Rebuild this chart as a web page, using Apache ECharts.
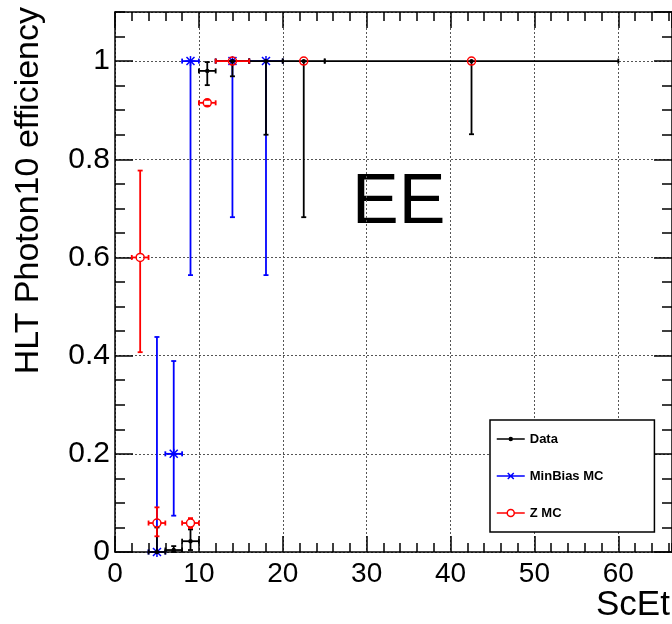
<!DOCTYPE html>
<html>
<head>
<meta charset="utf-8">
<script src="https://cdn.jsdelivr.net/npm/echarts@6/dist/echarts.min.js"></script>
<style>
html,body{margin:0;padding:0;background:#fff;}
#chart{width:672px;height:624px;}
</style>
</head>
<body>
<div id="chart"></div>
<script>
// ---- Data ----
const dataX        = [5, 7, 9, 11, 14, 18, 22.5, 42.5];
const dataY        = [0, 0.004, 0.022, 0.98, 1, 1, 1, 1];
const dataXErr     = [1, 1, 1, 1, 2, 2, 2.5, 17.5];
const dataYErrLow  = [0, 0.004, 0.018, 0.029, 0.031, 0.15, 0.318, 0.149];
const dataYErrHigh = [0.05, 0.008, 0.024, 0.018, 0, 0, 0, 0];

const minBiasX        = [5, 7, 9, 14, 18];
const minBiasY        = [0, 0.2, 1, 1, 1];
const minBiasXErr     = [1, 1, 1, 2, 2];
const minBiasYErrLow  = [0, 0.126, 0.436, 0.318, 0.436];
const minBiasYErrHigh = [0.438, 0.189, 0, 0, 0];

const zX        = [3, 5, 9, 11, 14, 22.5, 42.5];
const zY        = [0.6, 0.059, 0.059, 0.915, 1, 1, 1];
const zXErr     = [1, 1, 1, 1, 2, 0, 0];
const zYErrLow  = [0.193, 0.027, 0.01, 0.006, 0, 0, 0];
const zYErrHigh = [0.177, 0.032, 0.01, 0.006, 0, 0, 0];

const seriesNames = ['Data', 'MinBias MC', 'Z MC'];
const xRange = [0, 66.4];
const yRange = [0, 1.1];
const xTickLabels = ['0', '10', '20', '30', '40', '50', '60'];
const yTickLabels = ['0', '0.2', '0.4', '0.6', '0.8', '1'];

// ---- Build rows ----
function rows(xs, ys, ex, eyl, eyh) {
  return xs.map((x, i) => [x, ys[i], ex[i], ex[i], eyl[i], eyh[i]]);
}

const FONT = '"Liberation Sans", Arial, Helvetica, sans-serif';

function errRender(color, marker, lw) {
  return function (params, api) {
    const x = api.value(0), y = api.value(1);
    const exl = api.value(2), exh = api.value(3), eyl = api.value(4), eyh = api.value(5);
    const p = api.coord([x, y]);
    const gap = marker === 'circle' ? 4 : 0;
    const cap = 2.5;
    const st = { stroke: color, lineWidth: lw, fill: null };
    const kids = [];
    const seg = (x1, y1, x2, y2) => kids.push({ type: 'line', shape: { x1, y1, x2, y2 }, style: st });
    if (exl > 0) {
      const a = api.coord([x - exl, y]);
      seg(a[0], p[1], p[0] - gap, p[1]);
      seg(a[0], p[1] - cap, a[0], p[1] + cap);
    }
    if (exh > 0) {
      const b = api.coord([x + exh, y]);
      seg(p[0] + gap, p[1], b[0], p[1]);
      seg(b[0], p[1] - cap, b[0], p[1] + cap);
    }
    if (eyl > 0) {
      const a = api.coord([x, y - eyl]);
      seg(p[0], p[1] + gap, p[0], a[1]);
      seg(p[0] - cap, a[1], p[0] + cap, a[1]);
    }
    if (eyh > 0) {
      const b = api.coord([x, y + eyh]);
      seg(p[0], p[1] - gap, p[0], b[1]);
      seg(p[0] - cap, b[1], p[0] + cap, b[1]);
    }
    if (marker === 'dot') {
      kids.push({ type: 'circle', shape: { cx: p[0], cy: p[1], r: 2.2 }, style: { fill: color } });
    } else if (marker === 'star') {
      const s = 4;
      const ms = { stroke: color, lineWidth: 1.5 };
      kids.push({ type: 'line', shape: { x1: p[0] - s, y1: p[1] - s, x2: p[0] + s, y2: p[1] + s }, style: ms });
      kids.push({ type: 'line', shape: { x1: p[0] - s, y1: p[1] + s, x2: p[0] + s, y2: p[1] - s }, style: ms });
      kids.push({ type: 'line', shape: { x1: p[0], y1: p[1] - s - 1, x2: p[0], y2: p[1] + s + 1 }, style: ms });
      kids.push({ type: 'line', shape: { x1: p[0] - s - 1, y1: p[1], x2: p[0] + s + 1, y2: p[1] }, style: ms });
    } else if (marker === 'circle') {
      kids.push({ type: 'circle', shape: { cx: p[0], cy: p[1], r: 4 }, style: { fill: 'rgba(0,0,0,0)', stroke: color, lineWidth: 1.5 } });
    }
    return { type: 'group', children: kids };
  };
}

const chart = echarts.init(document.getElementById('chart'), null, { renderer: 'canvas' });

const gridLine = { show: true, lineStyle: { type: [2, 2], color: '#555', width: 1 } };
const axLine = { show: true, onZero: false, lineStyle: { color: '#000', width: 1.5 } };

function xAxisDef(position, major, showLabel) {
  return {
    type: 'value', position, min: xRange[0], max: xRange[1], interval: major ? 10 : 2,
    axisLine: major ? axLine : { show: false, onZero: false },
    axisTick: { show: true, inside: true, length: major ? 16 : 9, lineStyle: { color: '#000', width: 1.5 } },
    axisLabel: showLabel ? {
      show: true, fontSize: 28, fontFamily: FONT, color: '#000', margin: 8,
      showMaxLabel: false,
      formatter: v => { const i = Math.round(v / 10); return (Math.abs(v - i * 10) < 1e-6 && xTickLabels[i] !== undefined) ? xTickLabels[i] : ''; }
    } : { show: false },
    splitLine: (major && showLabel) ? gridLine : { show: false }
  };
}
function yAxisDef(position, major, showLabel) {
  return {
    type: 'value', position, min: yRange[0], max: yRange[1], interval: major ? 0.2 : 0.05,
    axisLine: major ? axLine : { show: false, onZero: false },
    axisTick: { show: true, inside: true, length: major ? 18 : 10, lineStyle: { color: '#000', width: 1.5 } },
    axisLabel: showLabel ? {
      show: true, fontSize: 30, fontFamily: FONT, color: '#000', margin: 5,
      showMaxLabel: false,
      formatter: v => { const i = Math.round(v / 0.2); return (Math.abs(v - i * 0.2) < 1e-6 && yTickLabels[i] !== undefined) ? yTickLabels[i] : ''; }
    } : { show: false },
    splitLine: (major && showLabel) ? gridLine : { show: false }
  };
}

const option = {
  animation: false,
  backgroundColor: '#fff',
  grid: { left: 115, top: 12, width: 561, height: 540, containLabel: false },
  xAxis: [
    xAxisDef('bottom', true, true),
    xAxisDef('bottom', false, false),
    xAxisDef('top', true, false),
    xAxisDef('top', false, false)
  ],
  yAxis: [
    yAxisDef('left', true, true),
    yAxisDef('left', false, false),
    yAxisDef('right', true, false),
    yAxisDef('right', false, false)
  ],
  legend: {
    show: true, orient: 'vertical', left: 490, top: 420,
    backgroundColor: '#fff',
    borderColor: '#000', borderWidth: 1.5, borderRadius: 0,
    padding: [11, 51, 11, 6],
    itemWidth: 28, itemHeight: 8, itemGap: 21,
    selectedMode: false,
    textStyle: { fontFamily: FONT, fontWeight: 'bold', fontSize: 13, color: '#000', lineHeight: 16 },
    data: [
      { name: seriesNames[0], icon: 'path://M0,0M28,8M0,4L28,4M12.5,4A1.5,1.5,0,1,1,15.5,4A1.5,1.5,0,1,1,12.5,4Z',
        itemStyle: { color: 'rgba(0,0,0,0)', borderColor: '#000', borderWidth: 1.5 } },
      { name: seriesNames[1], icon: 'path://M0,0M28,8M0,4L28,4M11,1L17,7M11,7L17,1',
        itemStyle: { color: 'rgba(0,0,0,0)', borderColor: '#0000ff', borderWidth: 1.5 } },
      { name: seriesNames[2], icon: 'path://M0,0M28,8M0,4L10.5,4M17.5,4L28,4M10.5,4A3.5,3.5,0,1,1,17.5,4A3.5,3.5,0,1,1,10.5,4Z',
        itemStyle: { color: 'rgba(0,0,0,0)', borderColor: '#ff0000', borderWidth: 1.5 } }
    ]
  },
  graphic: [
    { type: 'text', x: 29, y: 7, rotation: Math.PI / 2,
      style: { text: 'HLT Photon10 efficiency', font: '34px ' + FONT, fill: '#000', align: 'right', verticalAlign: 'middle' } },
    { type: 'text', x: 596, y: 605.5,
      style: { text: 'ScEt', font: '35px ' + FONT, fill: '#000', align: 'left', verticalAlign: 'middle' } },
    { type: 'text', x: 352, y: 203.5,
      style: { text: 'EE', font: '70px ' + FONT, fill: '#000', align: 'left', verticalAlign: 'middle' } }
  ],
  series: [
    { name: seriesNames[1], type: 'custom', xAxisIndex: 0, yAxisIndex: 0, clip: false,
      itemStyle: { color: '#0000ff' },
      renderItem: errRender('#0000ff', 'star', 1.8),
      encode: { x: 0, y: 1 },
      data: rows(minBiasX, minBiasY, minBiasXErr, minBiasYErrLow, minBiasYErrHigh) },
    { name: seriesNames[0], type: 'custom', xAxisIndex: 0, yAxisIndex: 0, clip: false,
      itemStyle: { color: '#000' },
      renderItem: errRender('#000000', 'dot', 1.8),
      encode: { x: 0, y: 1 },
      data: rows(dataX, dataY, dataXErr, dataYErrLow, dataYErrHigh) },
    { name: seriesNames[2], type: 'custom', xAxisIndex: 0, yAxisIndex: 0, clip: false,
      itemStyle: { color: '#ff0000' },
      renderItem: errRender('#ff0000', 'circle', 1.8),
      encode: { x: 0, y: 1 },
      data: rows(zX, zY, zXErr, zYErrLow, zYErrHigh) }
  ]
};
chart.setOption(option);
</script>
</body>
</html>
